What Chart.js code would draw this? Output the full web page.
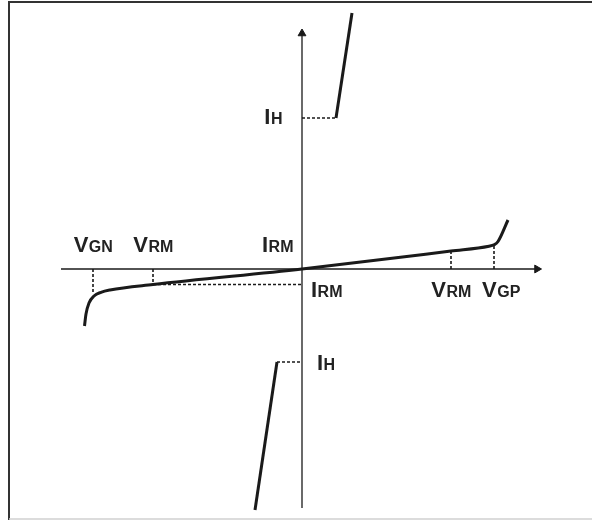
<!DOCTYPE html>
<html>
<head>
<meta charset="utf-8">
<script src="https://cdn.jsdelivr.net/npm/chart.js@4.4.1/dist/chart.umd.min.js"></script>
<style>
  body { margin: 0; background: #fff; }
  canvas { display: block; }
</style>
</head>
<body>
<canvas id="chart" width="592" height="520"></canvas>
<script>
// V-I characteristic of a thyristor surge protector (arbitrary units)
const curveV = [-10.875, -10.8, -10.65, -10.4, -10.05, -9.6, -7.45, 0, 7.45, 9.35, 9.6, 9.8, 10.3]
const curveI = [-5.7, -4.5, -3.4, -2.7, -2.33, -2.1, -1.55, 0, 1.8, 2.28, 2.42, 2.75, 4.9]

// on-state branches after breakover
const onUpV = [1.7, 2.5]
const onUpI = [15.1, 25.6]
const onDownV = [-1.25, -2.35]
const onDownI = [-9.3, -24.1]

// marked values
const vGN = -10.45
const vRM = 7.45
const vGP = 9.6
const iRMneg = -1.55
const iRMpos = 1.8
const iGP = 2.42
const iGN = -2.45
const iHup = 15.1
const iHdown = -9.3

const toPoints = (xs, ys) => xs.map((v, i) => ({ x: v, y: ys[i] }))

const ink = "#1a1a1a"

const solid = (data, width) => ({
    data: data,
    showLine: true,
    borderColor: ink,
    borderWidth: width,
    pointRadius: 0,
    fill: false,
    clip: false
})

const dashed = (data) => ({
    data: data,
    showLine: true,
    borderColor: ink,
    borderWidth: 1.6,
    borderDash: [3, 2],
    pointRadius: 0,
    fill: false,
    clip: false
})

const curve = solid(toPoints(curveV, curveI), 3)
curve.cubicInterpolationMode = "monotone"

const datasets = [
    // axes
    solid([{ x: -12.05, y: 0 }, { x: 11.7, y: 0 }], 1.3),
    solid([{ x: 0, y: -23.9 }, { x: 0, y: 23.6 }], 1.3),
    // arrow heads
    {
        data: [{ x: 11.75, y: 0 }],
        pointStyle: "triangle",
        rotation: 90,
        pointRadius: 4.5,
        pointBackgroundColor: ink,
        pointBorderColor: ink,
        pointBorderWidth: 1,
        clip: false
    },
    {
        data: [{ x: 0, y: 23.55 }],
        pointStyle: "triangle",
        rotation: 0,
        pointRadius: 4.5,
        pointBackgroundColor: ink,
        pointBorderColor: ink,
        pointBorderWidth: 1,
        clip: false
    },
    // guide lines
    dashed([{ x: vGN, y: 0 }, { x: vGN, y: iGN }]),
    dashed([{ x: -vRM, y: 0 }, { x: -vRM, y: iRMneg }]),
    dashed([{ x: -vRM, y: iRMneg }, { x: 0, y: iRMneg }]),
    dashed([{ x: vRM, y: 0 }, { x: vRM, y: iRMpos }]),
    dashed([{ x: vGP, y: 0 }, { x: vGP, y: iGP }]),
    dashed([{ x: 0, y: iHup }, { x: onUpV[0], y: iHup }]),
    dashed([{ x: onDownV[0], y: iHdown }, { x: 0, y: iHdown }]),
    // characteristic
    curve,
    solid(toPoints(onUpV, onUpI), 3),
    solid(toPoints(onDownV, onDownI), 3)
]

function drawLabel(ctx, main, sub, px, baseline, align) {
    const bigFont = "bold 22px 'Liberation Sans', Arial, sans-serif"
    const smallFont = "bold 16px 'Liberation Sans', Arial, sans-serif"
    ctx.font = bigFont
    const w1 = ctx.measureText(main).width
    ctx.font = smallFont
    const w2 = ctx.measureText(sub).width
    let start = px
    if (align === "center") start = px - (w1 + w2) / 2
    if (align === "right") start = px - (w1 + w2)
    ctx.textAlign = "left"
    ctx.textBaseline = "alphabetic"
    ctx.fillStyle = "#222"
    ctx.font = bigFont
    ctx.fillText(main, start, baseline)
    ctx.font = smallFont
    ctx.fillText(sub, start + w1 + 0.5, baseline)
}

const framePlugin = {
    id: "frame",
    beforeDraw(chart) {
        const ctx = chart.ctx
        ctx.save()
        ctx.fillStyle = "#fff"
        ctx.fillRect(0, 0, chart.width, chart.height)
        ctx.strokeStyle = "#333"
        ctx.lineWidth = 2
        ctx.beginPath()
        ctx.moveTo(9, 520)
        ctx.lineTo(9, 2)
        ctx.lineTo(592, 2)
        ctx.stroke()
        ctx.strokeStyle = "#d0d0d0"
        ctx.lineWidth = 1.5
        ctx.beginPath()
        ctx.moveTo(9, 519)
        ctx.lineTo(592, 519)
        ctx.stroke()
        ctx.restore()
    }
}

const labelPlugin = {
    id: "labels",
    afterDatasetsDraw(chart) {
        const ctx = chart.ctx
        const xs = chart.scales.x
        const ys = chart.scales.y
        const x0 = xs.getPixelForValue(0)
        const y0 = ys.getPixelForValue(0)
        ctx.save()
        drawLabel(ctx, "V", "GN", xs.getPixelForValue(vGN), y0 - 17, "center")
        drawLabel(ctx, "V", "RM", xs.getPixelForValue(-vRM), y0 - 17, "center")
        drawLabel(ctx, "I", "RM", x0 - 9, y0 - 17, "right")
        drawLabel(ctx, "I", "RM", x0 + 9, y0 + 28, "left")
        drawLabel(ctx, "V", "RM", xs.getPixelForValue(vRM), y0 + 28, "center")
        drawLabel(ctx, "V", "GP", xs.getPixelForValue(vGP) + 7, y0 + 28, "center")
        drawLabel(ctx, "I", "H", x0 - 20, ys.getPixelForValue(iHup) + 6, "right")
        drawLabel(ctx, "I", "H", x0 + 15, ys.getPixelForValue(iHdown) + 8, "left")
        ctx.restore()
    }
}

new Chart(document.getElementById("chart"), {
    type: "scatter",
    data: { datasets: datasets },
    options: {
        responsive: false,
        devicePixelRatio: 1,
        animation: false,
        events: [],
        layout: { padding: { left: 61, right: 50, top: 9, bottom: 10 } },
        plugins: {
            legend: { display: false },
            tooltip: { enabled: false }
        },
        scales: {
            x: { type: "linear", display: false, min: -12.05, max: 12 },
            y: { type: "linear", display: false, min: -24.1, max: 26 }
        }
    },
    plugins: [framePlugin, labelPlugin]
})
</script>
</body>
</html>
